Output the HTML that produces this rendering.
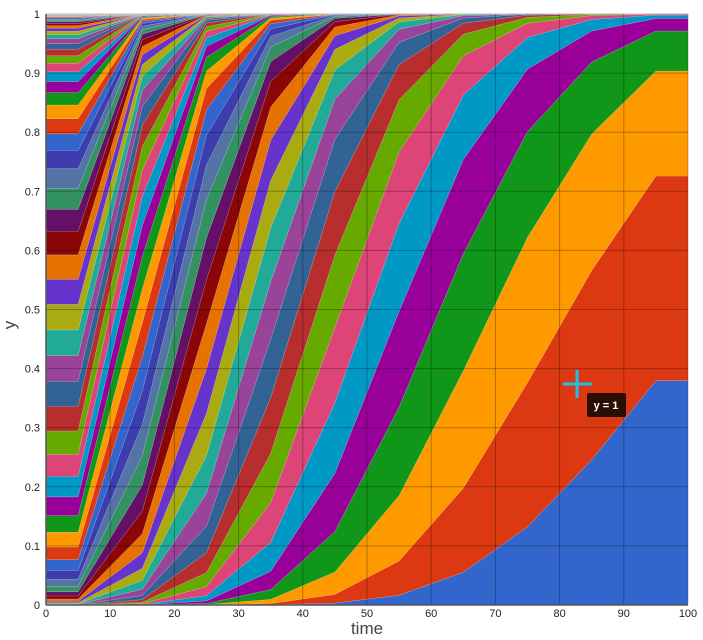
<!DOCTYPE html>
<html><head><meta charset="utf-8"><style>
html,body{margin:0;padding:0;background:#fff;}
svg{display:block;font-family:"Liberation Sans",Arial,sans-serif;}
</style></head><body>
<svg id="s" width="703" height="640" xmlns="http://www.w3.org/2000/svg">
<g id="areas"></g>
<g id="grid" stroke="rgba(0,0,0,0.28)" stroke-width="1"></g>
<line x1="46" y1="14" x2="46" y2="605" stroke="#555" stroke-width="1.5"/>
<line x1="46" y1="605" x2="688" y2="605" stroke="#555" stroke-width="1.5"/>
<g id="labels" font-size="11" fill="#222"></g>
<text x="367" y="634" font-size="17" fill="#444" text-anchor="middle">time</text>
<text transform="translate(15,325) rotate(-90)" font-size="17" fill="#444" text-anchor="middle">y</text>
<line x1="563" y1="384" x2="592" y2="384" stroke="#1ec0e8" stroke-width="3"/>
<line x1="577" y1="370" x2="577" y2="398" stroke="#1ec0e8" stroke-width="3"/>
<rect x="587" y="393" width="39" height="24" rx="2" fill="#2a0e04"/>
<text x="606" y="409" font-size="11" font-weight="bold" fill="#fff" text-anchor="middle">y = 1</text>
</svg>
<script>
var pal=["#3366cc","#dc3912","#ff9900","#109618","#990099","#0099c6","#dd4477","#66aa00","#b82e2e","#316395","#994499","#22aa99","#aaaa11","#6633cc","#e67300","#8b0707","#651067","#329262","#5574a6","#3b3eac"];
var times=[0,5,15,25,35,45,55,65,75,85,95,100];
var N=90;
function X(t){return 46+t*6.42;}
function Y(v){return 605-v*591;}
function cl(t){return t<5?5:(t>95?95:t);}
function mu(t){t=cl(t);return 1.03*Math.pow(1.47,(95-t)/10);}
function rr(t){t=cl(t);return 8+12*(95-t)/90;}
var cum=times.map(function(t){
 var m=mu(t),r=rr(t),q=m/(r+m),p=Math.pow(r/(r+m),r),c=[0],s=0;
 for(var k=0;k<N;k++){s+=p;c.push(s);p=p*(k+r)/(k+1)*q;}
 return c.map(function(v){return v/s;});
});
var g=document.getElementById('areas'),h='';
for(var k=0;k<N;k++){
 var pts=[];
 for(var i=0;i<times.length;i++)pts.push(X(times[i]).toFixed(2)+','+Y(cum[i][k+1]).toFixed(2));
 for(var i=times.length-1;i>=0;i--)pts.push(X(times[i]).toFixed(2)+','+Y(cum[i][k]).toFixed(2));
 h+='<polygon points="'+pts.join(' ')+'" fill="'+pal[k%20]+'" stroke="rgba(255,255,255,0.25)" stroke-width="0.5"/>';
}
g.innerHTML=h;
var gr='',lb='';
for(var i=1;i<=10;i++){gr+='<line x1="'+X(i*10)+'" y1="14" x2="'+X(i*10)+'" y2="605"/>';}
for(var i=1;i<=10;i++){gr+='<line x1="46" y1="'+Y(i/10)+'" x2="688" y2="'+Y(i/10)+'"/>';}
document.getElementById('grid').innerHTML=gr;
for(var i=0;i<=10;i++){var v=i/10;lb+='<text x="40" y="'+(Y(v)+4)+'" text-anchor="end">'+(i==10?'1':(i==0?'0':v.toFixed(1)))+'</text>';
 lb+='<text x="'+X(i*10)+'" y="617" text-anchor="middle">'+(i*10)+'</text>';}
document.getElementById('labels').innerHTML=lb;
</script>
</body></html>
